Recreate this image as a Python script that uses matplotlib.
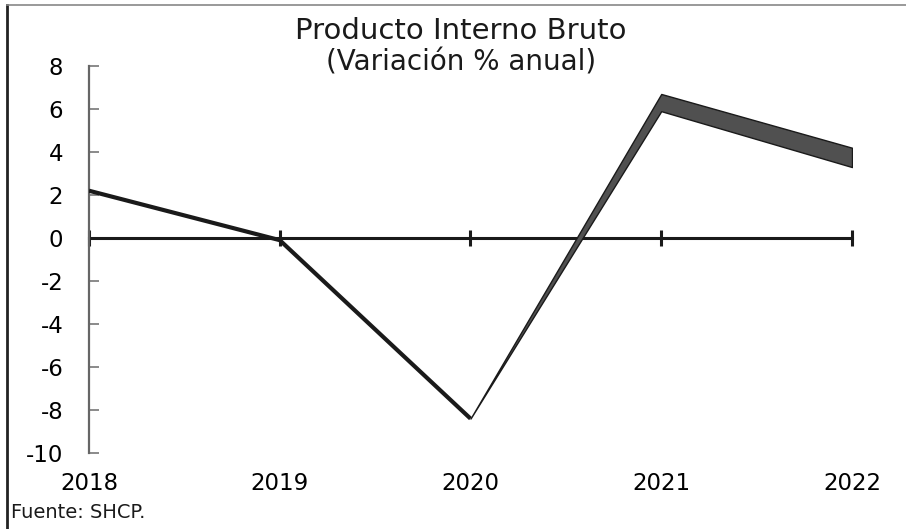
import numpy as np
import matplotlib
matplotlib.use('Agg')
import matplotlib.pyplot as plt
from matplotlib.lines import Line2D

# datos
years_obs = [2018, 2019, 2020]
pib_obs = [2.2, -0.1, -8.4]
years_est = [2020, 2021, 2022]
pib_low = [-8.4, 5.9, 3.3]
pib_high = [-8.4, 6.7, 4.2]
year_labels = ['2018', '2019', '2020', '2021', '2022']
y_ticks = [8, 6, 4, 2, 0, -2, -4, -6, -8, -10]

plt.rcParams['font.family'] = ['DejaVu Sans']

fig = plt.figure(figsize=(9.06, 5.29), dpi=100)
ax = fig.add_axes([0.0982, 0.1437, 0.8422, 0.7315])

years = [int(y) for y in year_labels]
# linea del cero con marcas en cada anio
ax.plot(years, [0] * len(years), color='#1a1a1a', lw=2.2, marker='|',
        markersize=11, markeredgewidth=2.2, zorder=2, clip_on=False)

ax.plot(years_obs, pib_obs, color='#1a1a1a', lw=3, solid_capstyle='butt', zorder=3)
ax.fill_between(years_est, pib_low, pib_high, facecolor='#505050',
                edgecolor='#1a1a1a', lw=1.0, zorder=3)

ax.set_xlim(2018, 2022)
ax.set_ylim(-10, 8)
ax.set_yticks(y_ticks)
ax.set_yticklabels([str(v) for v in y_ticks], fontsize=16.5)
ax.set_xticks(years)
ax.set_xticklabels(year_labels, fontsize=16.5)
ax.tick_params(axis='y', direction='in', length=7, width=1.2, color='#777777', pad=18.5)
ax.tick_params(axis='x', length=0, pad=14)

for side in ['top', 'right', 'bottom']:
    ax.spines[side].set_visible(False)
ax.spines['left'].set_color('#666666')
ax.spines['left'].set_linewidth(1.6)

fig.text(0.509, 0.942, 'Producto Interno Bruto', ha='center', va='center',
         fontsize=21, color='#1a1a1a')
fig.text(0.509, 0.882, '(Variación % anual)', ha='center', va='center',
         fontsize=20, color='#1a1a1a')
fig.text(0.012, 0.032, 'Fuente: SHCP.', ha='left', va='center', fontsize=14,
         color='#1a1a1a')

# bordes del recuadro escaneado
fig.add_artist(Line2D([0.008, 0.008], [0, 0.99], transform=fig.transFigure,
                      color='#222222', lw=2))
fig.add_artist(Line2D([0.008, 1.0], [0.99, 0.99], transform=fig.transFigure,
                      color='#888888', lw=1.2))

fig.savefig('out.png', dpi=100)
